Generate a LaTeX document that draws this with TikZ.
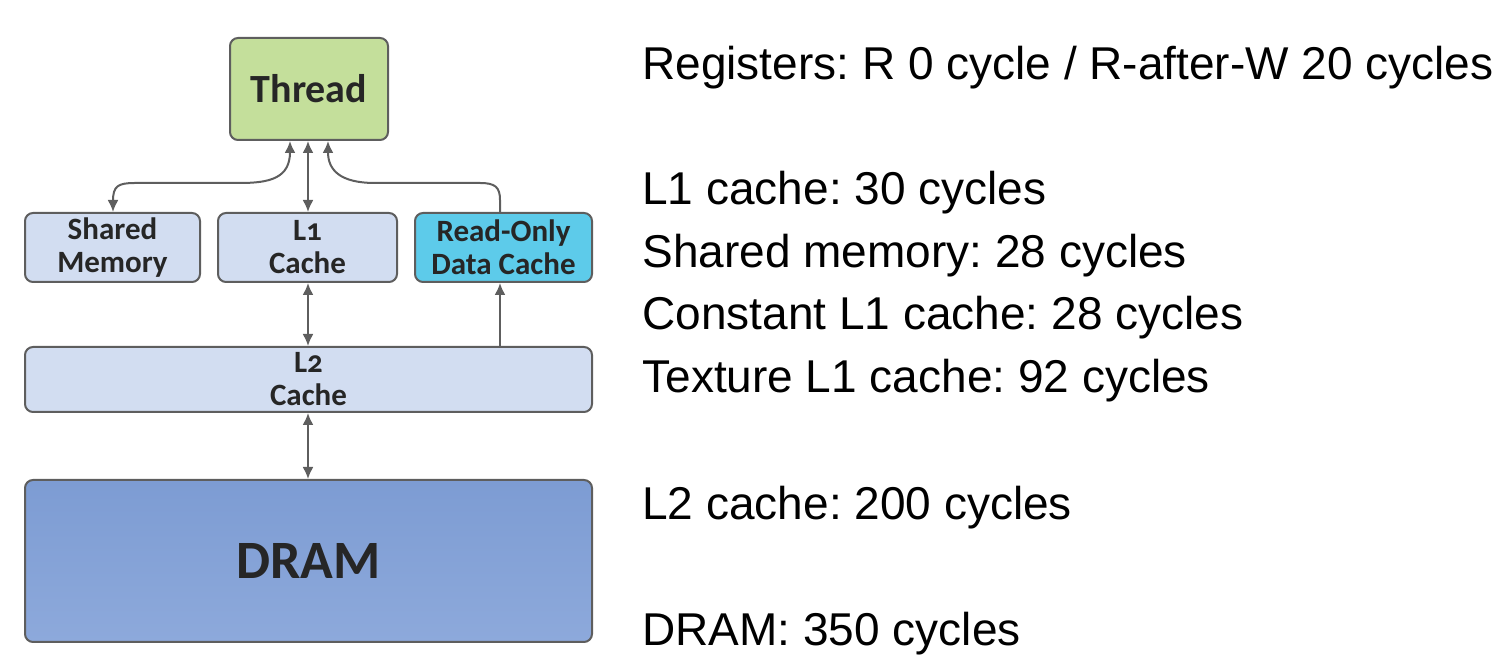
\documentclass[tikz,border=0pt]{standalone}
\usepackage{fontspec}
\setmainfont{Liberation Sans}
\newfontfamily\boxfont{Carlito}[Numbers=OldStyle]
\usetikzlibrary{arrows.meta}
\frenchspacing
\definecolor{threadgreen}{HTML}{C4DF9B}
\definecolor{cachelav}{HTML}{D2DDF1}
\definecolor{rocyan}{HTML}{5DCBEA}
\definecolor{dramtop}{HTML}{7D9CD3}
\definecolor{drambot}{HTML}{8DA9DB}
\definecolor{edgegray}{HTML}{5E5E5E}
\tikzset{
  membox/.style={draw=edgegray, line width=1pt, rounded corners=4pt,
    align=center, inner sep=0pt, font=\boxfont\bfseries\fontsize{15.5}{16.5}\selectfont,
    text=black!85},
  link/.style={draw=edgegray, line width=1pt}
}
\begin{document}
\begin{tikzpicture}[x=0.5pt, y=-0.5pt, >={Latex[length=6pt,width=5.5pt]}]
  \useasboundingbox (0,0) rectangle (1506,672);
  % memory hierarchy
  \node[membox, fill=threadgreen, minimum width=79pt, minimum height=51pt,
    font=\boxfont\bfseries\fontsize{20}{22}\selectfont] (thread) at (309,89) {Thread};
  \node[membox, fill=cachelav, minimum width=87.5pt, minimum height=34.5pt] (shared) at (112.5,247.5) {Shared\\Memory};
  \node[membox, fill=cachelav, minimum width=89.5pt, minimum height=34.5pt] (l1) at (307.5,247.5) {L1\\Cache};
  \node[membox, fill=rocyan, minimum width=88.5pt, minimum height=34.5pt] (ro) at (503.5,247.5) {Read-Only\\Data Cache};
  \node[membox, fill=cachelav, minimum width=283.5pt, minimum height=32.5pt] (l2) at (308.5,379.5) {L2\\Cache};
  \node[membox, top color=dramtop, bottom color=drambot, minimum width=283.5pt, minimum height=81pt,
    font=\boxfont\bfseries\fontsize{27}{30}\selectfont] (dram) at (308.5,561) {DRAM};
  % connectors
  \draw[link, <->] (thread.south -| 290,0) .. controls (290,178) and (270,183) .. (240,183)
    -- (135,183) .. controls (118,183) and (113,186) .. (shared.north -| 113,0);
  \draw[link, <->] (thread.south -| 308,0) -- (l1.north -| 308,0);
  \draw[link, ->] (ro.north -| 500,0) -- (500,200) .. controls (500,187) and (495,183) .. (480,183)
    -- (375,183) .. controls (340,183) and (328,170) .. (thread.south -| 328,0);
  \draw[link, <->] (l1.south -| 308,0) -- (l2.north -| 308,0);
  \draw[link, ->] (l2.north -| 500,0) -- (ro.south -| 500,0);
  \draw[link, <->] (l2.south -| 308,0) -- (dram.north -| 308,0);
  % latencies
  \begin{scope}[every node/.style={anchor=base west, inner sep=0pt, font=\fontsize{23}{26}\selectfont}]
    \node (reg) at (642,80) {Registers: R 0 cycle / R-after-W 20 cycles};
    \node (l1lat) at (642,205) {L1 cache: 30 cycles};
    \node (shlat) at (642,268) {Shared memory: 28 cycles};
    \node (conlat) at (642,330) {Constant L1 cache: 28 cycles};
    \node (texlat) at (642,393) {Texture L1 cache: 92 cycles};
    \node (l2lat) at (642,520) {L2 cache: 200 cycles};
    \node (dramlat) at (642,646) {DRAM: 350 cycles};
  \end{scope}
\end{tikzpicture}
\end{document}
